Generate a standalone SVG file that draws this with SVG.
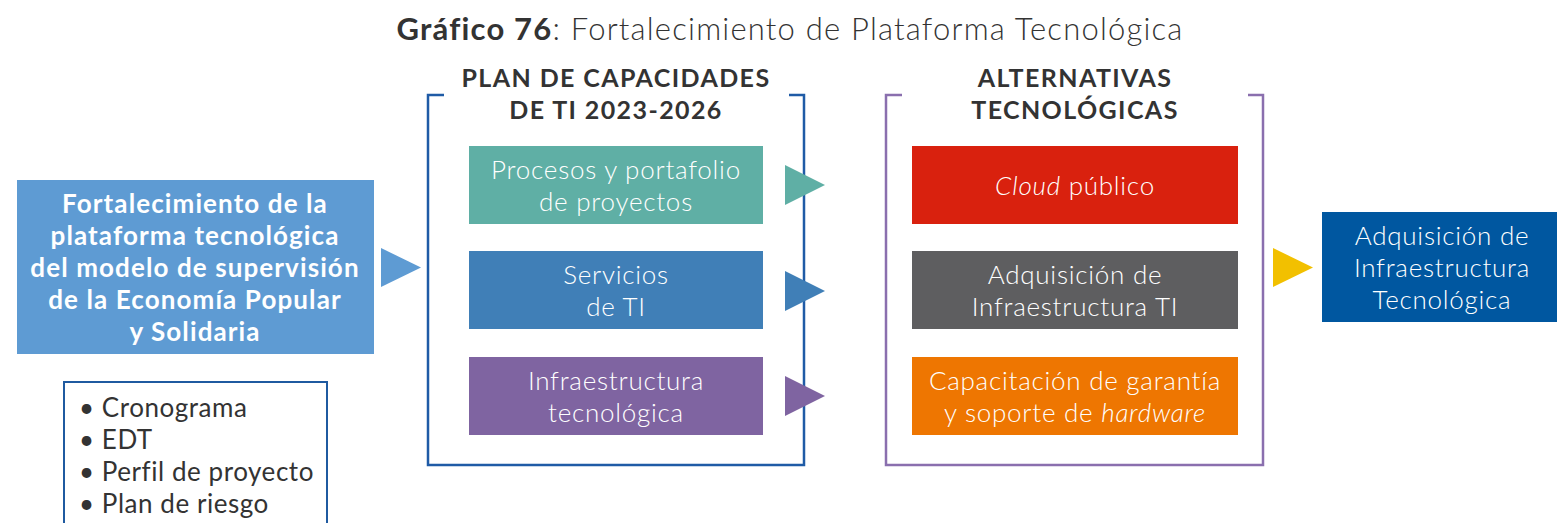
<svg xmlns="http://www.w3.org/2000/svg" width="1557" height="523" viewBox="0 0 1557 523">
<style>
.t{font-family:Lato,"Open Sans","Liberation Sans",sans-serif;text-anchor:middle}
.w{fill:#fff;font-size:26px;font-weight:300;letter-spacing:0.75px}
.wb{fill:#fff;font-size:26px;font-weight:700;letter-spacing:1.1px}
.h{fill:#333;font-size:25px;font-weight:700;letter-spacing:1.4px}
.b{font-family:Lato,"Open Sans","Liberation Sans",sans-serif;fill:#333;font-size:26px;font-weight:400;letter-spacing:0.55px}
</style>
<rect width="1557" height="523" fill="#fff"/>
<text x="790" y="40" class="t" style="font-size:31px;fill:#333;letter-spacing:1.2px"><tspan font-weight="700">Gráfico 76</tspan><tspan font-weight="300">: Fortalecimiento de Plataforma Tecnológica</tspan></text>

<g id="main">
<rect x="17" y="180" width="357" height="174" fill="#5E9BD3"/>
<text class="t wb"><tspan x="195" y="213">Fortalecimiento de la</tspan><tspan x="195" y="245">plataforma tecnológica</tspan><tspan x="195" y="277">del modelo de supervisión</tspan><tspan x="195" y="309">de la Economía Popular</tspan><tspan x="195" y="341">y Solidaria</tspan></text>
</g>

<g id="deliverables">
<rect x="64" y="382" width="263" height="150" fill="none" stroke="#1F5AA0" stroke-width="2"/>
<text class="b"><tspan x="79" y="417">• Cronograma</tspan><tspan x="79" y="449">• EDT</tspan><tspan x="79" y="481">• Perfil de proyecto</tspan><tspan x="79" y="513">• Plan de riesgo</tspan></text>
</g>

<g id="plan">
<path d="M444 95 H428 V465 H804 V95 H789" fill="none" stroke="#1F5BA6" stroke-width="2.5"/>
<text class="t h"><tspan x="616" y="87">PLAN DE CAPACIDADES</tspan><tspan x="616" y="119">DE TI 2023-2026</tspan></text>
</g>
<g id="procesos">
<rect x="469" y="146" width="294" height="78" fill="#5FAFA5"/>
<text class="t w"><tspan x="616" y="179">Procesos y portafolio</tspan><tspan x="616" y="211">de proyectos</tspan></text>
</g>
<g id="servicios">
<rect x="469" y="251" width="294" height="78" fill="#407FB7"/>
<text class="t w"><tspan x="616" y="284">Servicios</tspan><tspan x="616" y="316">de TI</tspan></text>
</g>
<g id="infra">
<rect x="469" y="357" width="294" height="78" fill="#7F64A1"/>
<text class="t w"><tspan x="616" y="390">Infraestructura</tspan><tspan x="616" y="422">tecnológica</tspan></text>
</g>

<g id="alternativas">
<path d="M902 95 H886 V465 H1263 V95 H1248" fill="none" stroke="#8A6FAE" stroke-width="2.5"/>
<text class="t h"><tspan x="1075" y="87">ALTERNATIVAS</tspan><tspan x="1075" y="119">TECNOLÓGICAS</tspan></text>
</g>
<g id="cloud">
<rect x="912" y="146" width="326" height="78" fill="#D9210E"/>
<text class="t w" x="1075" y="195"><tspan font-style="italic">Cloud</tspan> público</text>
</g>
<g id="adq">
<rect x="912" y="251" width="326" height="78" fill="#5E5E60"/>
<text class="t w"><tspan x="1075" y="284">Adquisición de</tspan><tspan x="1075" y="316">Infraestructura TI</tspan></text>
</g>
<g id="capac">
<rect x="912" y="357" width="326" height="78" fill="#EE7601"/>
<text class="t w"><tspan x="1075" y="390">Capacitación de garantía</tspan><tspan x="1075" y="422">y soporte de <tspan font-style="italic">hardware</tspan></tspan></text>
</g>

<g id="final">
<rect x="1322" y="212" width="235" height="110" fill="#0057A0"/>
<text class="t w"><tspan x="1442" y="245">Adquisición de</tspan><tspan x="1442" y="277">Infraestructura</tspan><tspan x="1442" y="309">Tecnológica</tspan></text>
</g>

<g id="connectors">
<polygon points="381,248 421,267.5 381,287" fill="#5E9BD3"/>
<polygon points="785,165 825,185 785,205" fill="#5FAFA5"/>
<polygon points="785,271 825,291 785,311" fill="#407FB7"/>
<polygon points="785,376 825,396 785,416" fill="#7F64A1"/>
<polygon points="1273,248 1313,267.5 1273,287" fill="#F2C000"/>
</g>
</svg>
